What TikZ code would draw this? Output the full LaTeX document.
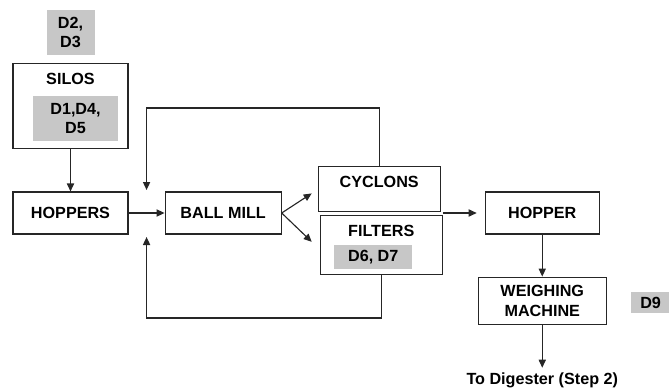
\documentclass[tikz,border=0pt]{standalone}
\usepackage{fontspec}
\setmainfont{Liberation Sans}
\usetikzlibrary{arrows.meta, positioning, calc}

\begin{document}
\begin{tikzpicture}[
        every node/.style={font=\fontsize{11.5}{14}\selectfont\bfseries},
        box/.style={draw=black!85, line width=0.8pt, minimum height=1.05cm, align=center, inner sep=2pt},
        dbox/.style={fill=black!22, align=center, inner sep=1pt},
        arr/.style={-{Triangle[length=2mm, width=1.8mm]}, line width=0.8pt, black!85},
    ]
    \useasboundingbox (-1.7625,5.325) rectangle (14.9625,-4.4);

    %% ===== Raw material feed =====
    \node[box, minimum width=2.875cm] (hoppers) at (0,0) {HOPPERS};
    \node[box, above=1.05cm of hoppers, minimum width=2.875cm, minimum height=2.125cm] (silos) {};
    \node (silostxt) at ($(silos.north)+(0,-0.4)$) {SILOS};
    \node[dbox, minimum width=2.125cm, minimum height=1.125cm] (d145) at ($(silos.center)+(0.125,-0.3)$) {D1,D4,\\D5};
    \node[dbox, above=0.2cm of silos, minimum width=1.2cm, minimum height=1.125cm] (d23) {D2,\\D3};

    %% ===== Grinding =====
    \node[box, right=0.9cm of hoppers, minimum width=2.9cm] (ballmill) {BALL MILL};
    \node[box, right=0.9cm of ballmill, yshift=0.6cm, minimum width=3.05cm, minimum height=1.125cm] (cyclons) {};
    \node (cyctxt) at ($(cyclons.north)+(0,-0.4)$) {CYCLONS};
    \node[box, below=0.075cm of cyclons, xshift=0.05cm, minimum width=3.05cm, minimum height=1.475cm] (filters) {};
    \node (filtxt) at ($(filters.north)+(0,-0.4)$) {FILTERS};
    \node[dbox, minimum width=1.95cm, minimum height=0.6cm] (d67) at ($(filters.center)+(-0.2,-0.3)$) {D6, D7};

    %% ===== Dosing =====
    \node[box, right=5.075cm of ballmill, minimum width=2.85cm] (hopper) {HOPPER};
    \node[box, below=1.05cm of hopper, minimum width=3.2cm, minimum height=1.175cm] (weigh) {WEIGHING\\MACHINE};
    \node[dbox, right=0.6cm of weigh, yshift=-0.05cm, minimum width=0.975cm, minimum height=0.525cm] (d9) {D9};
    \node[below=1.075cm of weigh] (digester) {To Digester (Step 2)};

    %% ===== Flow =====
    \draw[arr] (silos) -- (hoppers);
    \draw[arr] (hoppers) -- (ballmill);
    \coordinate (tocyc) at ($(ballmill.east)+(0.75,0.49)$);
    \coordinate (tofil) at ($(ballmill.east)+(0.75,-0.72)$);
    \draw[arr] (ballmill.east) -- (tocyc);
    \draw[arr] (ballmill.east) -- (tofil);
    \draw[arr, shorten >=0.2cm] (filters.north east |- hopper.west) -- (hopper.west);
    \draw[arr] (hopper) -- (weigh);
    \draw[arr] (weigh) -- (digester);

    %% ===== Recycle loops =====
    \coordinate (mid) at ($(hoppers.east)!0.5!(ballmill.west)$);
    \coordinate (fbtop) at ($(mid)+(0,2.625)$);
    \coordinate (fbtopin) at ($(mid)+(0,0.575)$);
    \coordinate (fbbot) at ($(mid)+(0,-2.625)$);
    \coordinate (fbbotin) at ($(mid)+(0,-0.6)$);
    \draw[arr] (cyclons.north) |- (fbtop) -- (fbtopin);
    \draw[arr] (filters.south) |- (fbbot) -- (fbbotin);

\end{tikzpicture}
\end{document}
